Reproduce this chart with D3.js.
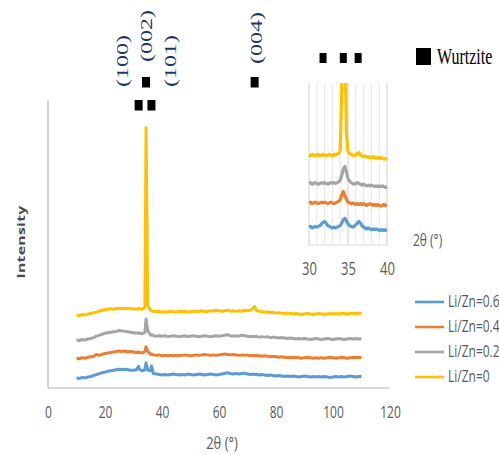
<!DOCTYPE html>
<html>
<head>
<meta charset="utf-8">
<script src="https://cdn.jsdelivr.net/npm/d3@7"></script>
<style>
  html, body { margin: 0; padding: 0; background: #fff; }
  svg { display: block; }
</style>
</head>
<body>
<svg id="chart" width="499" height="454"></svg>
<script>
// XRD patterns of Li-doped ZnO films (curves offset vertically for clarity)
const twoTheta = [
  10, 11, 12, 13, 14, 15, 16, 17, 18, 19,
  20, 21, 22, 23, 24, 25, 26, 27, 28, 29,
  30, 31, 31.8, 32, 33, 34, 34.4, 35, 36, 36.3,
  37, 38, 39, 40, 41, 42, 43, 44, 45, 46,
  47, 48, 49, 50, 51, 52, 53, 54, 55, 56,
  57, 58, 59, 60, 61, 62, 63, 64, 65, 66,
  67, 68, 69, 70, 71, 72, 72.5, 73, 74, 75,
  76, 77, 78, 79, 80, 81, 82, 83, 84, 85,
  86, 87, 88, 89, 90, 91, 92, 93, 94, 95,
  96, 97, 98, 99, 100, 101, 102, 103, 104, 105,
  106, 107, 108, 109, 110
];

const li06 = [
  10.5, 10, 11, 10.5, 11.5, 12, 13, 14, 15, 16,
  16.5, 17.5, 18, 18.5, 19, 19.5, 19, 19.5, 19, 18.5,
  18.5, 19, 22.5, 19.5, 18, 19, 26, 19, 18, 23,
  15, 14.5, 14, 13.5, 14, 13.5, 14, 14.5, 14, 13.5,
  14, 13.5, 14.5, 14, 13.5, 14, 14.5, 14, 13.5, 14,
  14.5, 14, 13.5, 14, 14.5, 15, 16, 15, 14.5, 15,
  14.5, 15, 15.5, 14.5, 14, 14.5, 14, 14.5, 13.5, 14,
  13.5, 13, 13.5, 13, 12.5, 13, 12.5, 12, 12.5, 12,
  12.5, 12, 11.5, 12, 12.5, 12, 11.5, 12, 11.5, 12,
  11.5, 12, 11.5, 11, 11.5, 12, 11.5, 12, 11.5, 12,
  12.5, 12, 11.5, 12, 12
];

const li04 = [
  31, 30.5, 31.5, 31, 32, 32.5, 33, 35, 34, 35,
  36, 36.5, 37, 37.5, 38, 38.5, 38, 38.5, 37.5, 38,
  37.5, 37, 37.5, 37, 36.5, 38, 43, 38, 35, 35.5,
  34.5, 34, 34.5, 33.5, 34, 33.5, 34, 33.5, 34, 33.5,
  34, 34.5, 34, 33.5, 34, 34.5, 34, 34.5, 35, 34.5,
  34, 34.5, 34, 34.5, 35, 35.5, 35, 34.5, 35, 34.5,
  34, 34.5, 34, 34.5, 33.5, 34, 33.5, 34, 33.5, 33,
  33.5, 33, 32.5, 33, 32.5, 32, 32.5, 32, 31.5, 32,
  31.5, 32, 31.5, 31, 31.5, 32, 31.5, 31, 31.5, 31,
  31.5, 31, 31.5, 32, 31.5, 31, 31.5, 32, 31.5, 31,
  31.5, 32, 31.5, 32, 31.5
];

const li02 = [
  50, 49.5, 50.5, 50, 51, 51.5, 52.5, 54, 55, 56,
  57, 57.5, 58, 58.5, 59, 60, 59.5, 59, 58.5, 58,
  57.5, 57, 57.5, 57, 56.5, 58, 72, 60, 55, 55.5,
  54.5, 54, 54.5, 54, 54.5, 53.5, 54, 54.5, 54, 53.5,
  54, 54.5, 53.5, 54, 54.5, 54, 53.5, 54, 54.5, 54,
  53.5, 54, 54.5, 54, 54.5, 55, 55.5, 54.5, 54, 54.5,
  54, 55, 54.5, 54, 53.5, 54, 53.5, 54, 53, 53.5,
  53, 53.5, 52.5, 53, 52.5, 52, 52.5, 52, 51.5, 52,
  51.5, 51, 51.5, 51, 51.5, 51, 50.5, 51, 51.5, 51,
  50.5, 51, 51.5, 51, 50.5, 51, 51.5, 51, 50.5, 51,
  51.5, 51, 51.5, 51, 51.5
];

const li00 = [
  76, 75.5, 76.5, 76, 77, 77.5, 78.5, 79, 80, 81,
  81.5, 82, 82.5, 82, 83, 82.5, 83, 82.5, 83, 82.5,
  82.5, 82, 83, 82.5, 82, 84, 271, 86, 81, 80.5,
  80, 79.5, 80, 79, 79.5, 79, 80, 79.5, 79, 80,
  79.5, 80, 79, 79.5, 80, 79.5, 80, 80.5, 79.5, 80,
  80.5, 80, 81, 80.5, 80, 80.5, 81, 80, 80.5, 80,
  80.5, 80, 81, 80.5, 81, 83, 85, 81.5, 80, 79.5,
  79, 79.5, 78.5, 79, 78, 78.5, 78, 77.5, 78, 77.5,
  77, 77.5, 77, 76.5, 77, 77.5, 77, 76.5, 77, 77.5,
  77, 76.5, 77, 77.5, 77, 77.5, 77, 78, 77.5, 77,
  77.5, 78, 77.5, 78, 77.5
];

// Zoomed view of the 30–40° region
const insetTheta = [
  30, 30.2, 30.4, 30.6, 30.8, 31, 31.2, 31.4, 31.6, 31.8,
  32, 32.2, 32.4, 32.6, 32.8, 33, 33.2, 33.4, 33.6, 33.8,
  34, 34.2, 34.4, 34.6, 34.8, 35, 35.2, 35.4, 35.6, 35.8,
  36, 36.2, 36.4, 36.6, 36.8, 37, 37.2, 37.4, 37.6, 37.8,
  38, 38.2, 38.4, 38.6, 38.8, 39, 39.2, 39.4, 39.6, 39.8,
  40
];

const inset06 = [
  11, 11.5, 10.5, 11, 11.5, 11, 11.5, 12, 13, 14,
  14.5, 13.5, 12, 11.5, 11, 10.5, 11, 10.5, 11, 11.5,
  12, 13.5, 15.5, 16.5, 15, 13, 12, 11.5, 11, 11.5,
  12.5, 13.5, 14.5, 13.5, 12, 11, 10.5, 10, 10.5, 10,
  9.5, 10, 9.5, 10, 9.5, 9, 9.5, 9, 9.5, 9,
  9.5
];

const inset04 = [
  26, 26.5, 25.5, 26, 26.5, 26, 25.5, 26, 26.5, 26,
  26.5, 26, 25.5, 26, 26.5, 26, 25.5, 26, 26.5, 27,
  28, 31, 33, 30.5, 28, 26.5, 26, 25.5, 26, 25.5,
  25, 25.5, 25, 25.5, 25, 25.5, 25, 24.5, 25, 25.5,
  25, 24.5, 25, 24.5, 25, 24.5, 24, 24.5, 25, 24.5,
  24.5
];

const inset02 = [
  38, 38.5, 37.5, 38, 38.5, 38, 37.5, 38, 38.5, 38,
  38.5, 38, 37.5, 38, 38.5, 38, 38.5, 38, 38.5, 39,
  40, 43, 47, 48.5, 45, 41, 39.5, 38.5, 38, 37.5,
  38, 38.5, 38, 37.5, 37, 37.5, 37, 36.5, 37, 36.5,
  37, 36.5, 36, 36.5, 36, 36.5, 36, 36.5, 36, 35.5,
  36
];

const inset00 = [
  55.5, 55, 56, 55.5, 55, 55.5, 56, 55, 55.5, 56,
  55.5, 55, 55.5, 56, 55.5, 55, 56, 55.5, 56, 56.5,
  58, 95, 150, 130, 68, 58, 56.5, 56, 55.5, 55,
  55.5, 56.5, 57, 55.5, 55, 54.5, 55, 54.5, 54, 54.5,
  54, 54.5, 54, 53.5, 54, 53.5, 54, 53.5, 53, 53.5,
  53
];

const seriesNames = ["Li/Zn=0.6", "Li/Zn=0.4", "Li/Zn=0.2", "Li/Zn=0"];
const seriesColors = ["#5b9bd5", "#ed7d31", "#a5a5a5", "#ffc000"];
const mainSeries = [li06, li04, li02, li00];
const insetSeries = [inset06, inset04, inset02, inset00];

const mainTicks = [0, 20, 40, 60, 80, 100, 120];
const insetTicks = [30, 35, 40];
const insetMinorTicks = [30, 31, 32, 33, 34, 35, 36, 37, 38, 39, 40];

// Wurtzite ZnO reflections
const wurtzitePeaks = [31.8, 34.4, 36.3, 72.5];
const peakLabels = ["(100)", "(002)", "(101)", "(004)"];

const svg = d3.select("#chart");
const textGrey = "#595959";
const sansFont = "'Open Sans', 'Liberation Sans', sans-serif";
const serifFont = "'Liberation Serif', 'DejaVu Serif', serif";

// ---------- main panel ----------
const x = d3.scaleLinear().domain([0, 120]).range([48, 390]);
const y = d3.scaleLinear().domain([0, 300]).range([388, 100]);

svg.append("line")
  .attr("x1", x(0)).attr("x2", x(0)).attr("y1", y(300)).attr("y2", y(0))
  .attr("stroke", "#b4b4b4").attr("stroke-width", 1.2);
svg.append("line")
  .attr("x1", x(0)).attr("x2", x(120)).attr("y1", y(0)).attr("y2", y(0))
  .attr("stroke", "#b4b4b4").attr("stroke-width", 1.2);

const mainAxis = svg.append("g")
  .attr("transform", `translate(0,${y(0)})`)
  .call(d3.axisBottom(x).tickValues(mainTicks).tickSize(0).tickPadding(0).tickFormat(d3.format("d")));
mainAxis.select(".domain").remove();
mainAxis.selectAll("text")
  .attr("fill", textGrey).attr("font-family", sansFont).attr("font-size", 12)
  .attr("y", 0).attr("dy", 0)
  .attr("transform", "translate(0,30) scale(1,1.35)");

svg.append("text")
  .attr("transform", "translate(222,449) scale(1,1.3)")
  .attr("text-anchor", "middle").attr("fill", textGrey)
  .attr("font-family", sansFont).attr("font-size", 13)
  .text("2θ (°)");

svg.append("text")
  .attr("transform", "translate(25,242) scale(1,1.5) rotate(-90)")
  .attr("text-anchor", "middle").attr("fill", "#4a4a4a")
  .attr("font-family", sansFont).attr("font-size", 10.5).attr("font-weight", "bold")
  .attr("letter-spacing", 0.2)
  .text("Intensity");

const mainLine = d3.line().x((d, i) => x(twoTheta[i])).y(d => y(d));
mainSeries.forEach((s, k) => {
  svg.append("path")
    .datum(s)
    .attr("d", mainLine)
    .attr("fill", "none")
    .attr("stroke", seriesColors[k])
    .attr("stroke-width", 3)
    .attr("stroke-linejoin", "round");
});

// ---------- inset ----------
const xi = d3.scaleLinear().domain([30, 40]).range([309, 387]);
const yi = d3.scaleLinear().domain([0, 100]).range([245, 83]);

const insetG = svg.append("g");
insetG.selectAll("line.grid")
  .data(insetMinorTicks)
  .join("line")
  .attr("class", "grid")
  .attr("x1", d => xi(d)).attr("x2", d => xi(d))
  .attr("y1", yi(100)).attr("y2", yi(0))
  .attr("stroke", d => insetTicks.includes(d) ? "#cfcfcf" : "#e6e6e6")
  .attr("stroke-width", 1);
insetG.append("line")
  .attr("x1", xi(30)).attr("x2", xi(40)).attr("y1", yi(0)).attr("y2", yi(0))
  .attr("stroke", "#d9d9d9");

svg.append("clipPath").attr("id", "insetClip")
  .append("rect")
  .attr("x", xi(30) - 2).attr("y", yi(100))
  .attr("width", xi(40) - xi(30) + 4).attr("height", yi(0) - yi(100));

const insetLine = d3.line().x((d, i) => xi(insetTheta[i])).y(d => yi(d));
const insetLines = insetG.append("g").attr("clip-path", "url(#insetClip)");
insetSeries.forEach((s, k) => {
  insetLines.append("path")
    .datum(s)
    .attr("d", insetLine)
    .attr("fill", "none")
    .attr("stroke", seriesColors[k])
    .attr("stroke-width", 3.2)
    .attr("stroke-linejoin", "round");
});

const insetAxis = svg.append("g")
  .attr("transform", `translate(0,${yi(0)})`)
  .call(d3.axisBottom(xi).tickValues(insetTicks).tickSize(0).tickPadding(0).tickFormat(d3.format("d")));
insetAxis.select(".domain").remove();
insetAxis.selectAll("text")
  .attr("fill", textGrey).attr("font-family", sansFont).attr("font-size", 13)
  .attr("y", 0).attr("dy", 0)
  .attr("transform", "translate(0,30) scale(1,1.35)");

svg.append("text")
  .attr("transform", "translate(413,246) scale(1,1.3)")
  .attr("fill", textGrey).attr("font-family", sansFont).attr("font-size", 12)
  .text("2θ (°)");

// ---------- peak markers ----------
const labelDx = [-16.5, 0.5, 18.5, 1.5];
const labelCy = [61, 36, 61, 38];
const squareTop = [100, 77, 100, 77];

wurtzitePeaks.forEach((p, i) => {
  svg.append("rect")
    .attr("x", x(p) - 4).attr("y", squareTop[i])
    .attr("width", 8).attr("height", 10.5)
    .attr("fill", "#000");
  svg.append("text")
    .attr("transform", `translate(${x(p) + labelDx[i]},${labelCy[i]}) scale(1,1.5) rotate(-90)`)
    .attr("text-anchor", "middle").attr("dy", "0.35em")
    .attr("fill", "#1f3763").attr("font-family", serifFont).attr("font-size", 16)
    .text(peakLabels[i]);
});

wurtzitePeaks.slice(0, 3).forEach(p => {
  svg.append("rect")
    .attr("x", xi(p) - 3.5).attr("y", 53)
    .attr("width", 7).attr("height", 10)
    .attr("fill", "#000");
});

// Phase key
svg.append("rect").attr("x", 416).attr("y", 48).attr("width", 15).attr("height", 17).attr("fill", "#000");
svg.append("text")
  .attr("transform", "translate(437,64) scale(1,1.5)")
  .attr("fill", "#000").attr("font-family", serifFont).attr("font-size", 16)
  .text("Wurtzite");

// ---------- legend ----------
const legendY = [302, 327, 352, 377];
const legend = svg.append("g");
seriesNames.forEach((name, k) => {
  legend.append("line")
    .attr("x1", 415).attr("x2", 444).attr("y1", legendY[k]).attr("y2", legendY[k])
    .attr("stroke", seriesColors[k]).attr("stroke-width", 2.6);
  legend.append("text")
    .attr("transform", `translate(448,${legendY[k] + 4.5}) scale(1,1.3)`)
    .attr("fill", textGrey).attr("font-family", sansFont).attr("font-size", 12)
    .text(name);
});
</script>
</body>
</html>
